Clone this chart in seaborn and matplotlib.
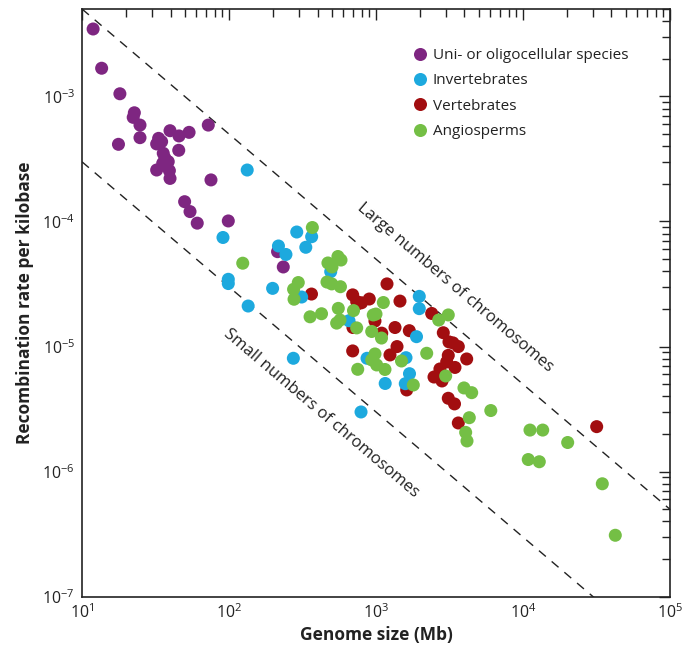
import numpy as np
import pandas as pd
import matplotlib
matplotlib.use("Agg")
import matplotlib.pyplot as plt
import seaborn as sns

# ---------------- data ----------------
uni_size = [11.9, 13.6, 18.1, 22.7, 22.3, 24.8, 17.7, 24.8, 33.2, 32.2, 34.8, 39.7, 45.7, 53.5,
            45.5, 35.7, 36.7, 38.6, 32.2, 35.4, 39.3, 39.7, 72.3, 75.4, 49.9, 54.3, 60.8, 98.9,
            214, 234]
uni_rate = [3.46e-3, 1.68e-3, 1.05e-3, 7.4e-4, 6.8e-4, 5.9e-4, 4.14e-4, 4.68e-4, 4.62e-4, 4.17e-4,
            4.35e-4, 5.32e-4, 4.83e-4, 5.16e-4, 3.71e-4, 3.51e-4, 3.20e-4, 3.01e-4, 2.58e-4, 2.92e-4,
            2.55e-4, 2.21e-4, 5.9e-4, 2.15e-4, 1.44e-4, 1.20e-4, 9.7e-5, 1.01e-4, 5.74e-5, 4.33e-5]

vert_size = [364, 1188, 694, 739, 797, 900, 1456, 984, 697, 1094, 1347, 1685, 694, 1390, 1245,
             1618, 2393, 2870, 3137, 3340, 3631, 4140, 3103, 3027, 3446, 2722, 2481, 2812, 3103,
             3420, 3631, 31720, 748]
vert_rate = [2.63e-5, 3.17e-5, 2.59e-5, 2.29e-5, 2.24e-5, 2.40e-5, 2.31e-5, 1.60e-5, 1.42e-5,
             1.28e-5, 1.42e-5, 1.34e-5, 9.23e-6, 1.0e-5, 8.57e-6, 4.50e-6, 1.84e-5, 1.29e-5, 1.09e-5,
             1.07e-5, 1.0e-5, 7.96e-6, 8.5e-6, 7.54e-6, 6.81e-6, 6.62e-6, 5.71e-6, 5.31e-6, 3.86e-6,
             3.48e-6, 2.45e-6, 2.29e-6, 2.19e-5]

inv_size = [133, 91, 289, 365, 333, 217, 244, 98.9, 98.9, 198, 135, 312, 492, 655, 274, 1970,
            1970, 1886, 869, 1600, 1690, 1155, 1582, 791]
inv_rate = [2.58e-4, 7.45e-5, 8.24e-5, 7.56e-5, 6.22e-5, 6.37e-5, 5.45e-5, 3.45e-5, 3.19e-5,
            2.92e-5, 2.11e-5, 2.49e-5, 3.97e-5, 1.61e-5, 8.06e-6, 2.52e-5, 2.01e-5, 1.20e-5,
            8.06e-6, 8.15e-6, 6.07e-6, 5.07e-6, 5.05e-6, 3.0e-6]

ang_size = [369, 124, 551, 578, 471, 502, 296, 275, 277, 464, 500, 573, 554, 356, 426, 540, 569,
            703, 1122, 958, 1000, 739, 935, 1090, 2213, 984, 935, 1011, 1151, 1491, 751, 1794,
            3103, 2671, 2979, 3967, 4477, 6040, 4313, 4074, 4160, 11160, 13620, 20140, 10860,
            12910, 34640, 42460]
ang_rate = [8.95e-5, 4.64e-5, 5.25e-5, 4.92e-5, 4.66e-5, 4.33e-5, 3.25e-5, 2.87e-5, 2.39e-5,
            3.28e-5, 3.17e-5, 3.01e-5, 2.02e-5, 1.73e-5, 1.83e-5, 1.54e-5, 1.63e-5, 1.94e-5,
            2.25e-5, 1.79e-5, 1.82e-5, 1.41e-5, 1.32e-5, 1.17e-5, 8.84e-6, 8.73e-6, 7.82e-6,
            7.13e-6, 6.56e-6, 7.67e-6, 6.58e-6, 4.93e-6, 1.79e-5, 1.63e-5, 5.82e-6, 4.67e-6,
            4.28e-6, 3.08e-6, 2.70e-6, 2.06e-6, 1.76e-6, 2.15e-6, 2.15e-6, 1.71e-6, 1.25e-6,
            1.20e-6, 8.0e-7, 3.1e-7]

groups = ["Uni- or oligocellular species", "Invertebrates", "Vertebrates", "Angiosperms"]
colors = ["#7E2681", "#1DA9DE", "#A20E10", "#74BF45"]

# dashed guide lines: rate = const / genome size
large_const = 0.05
small_const = 3e-3
xlim = (10, 1e5)
ylim = (1e-7, 5e-3)

# ---------------- figure ----------------
sns.set_theme(style="white")
plt.rcParams["font.family"] = ["Open Sans", "DejaVu Sans"]
plt.rcParams["mathtext.default"] = "regular"

df = pd.concat([
    pd.DataFrame({"size": uni_size, "rate": uni_rate, "group": groups[0]}),
    pd.DataFrame({"size": vert_size, "rate": vert_rate, "group": groups[2]}),
    pd.DataFrame({"size": inv_size, "rate": inv_rate, "group": groups[1]}),
    pd.DataFrame({"size": ang_size, "rate": ang_rate, "group": groups[3]}),
], ignore_index=True)

fig = plt.figure(figsize=(6.84, 6.47), dpi=100)
ax = fig.add_axes([0.1199, 0.0777, 0.8596, 0.9084])

ax.set_xscale("log")
ax.set_yscale("log")

xs = np.array(xlim)
ax.plot(xs, large_const / xs, ls=(0, (6.5, 5.5)), color="#222222", lw=1.0, zorder=1)
ax.plot(xs, small_const / xs, ls=(0, (6.5, 5.5)), color="#222222", lw=1.0, zorder=1)

sns.scatterplot(data=df, x="size", y="rate", hue="group", hue_order=groups,
                palette=dict(zip(groups, colors)), s=88, linewidth=0, alpha=1,
                ax=ax, zorder=3, legend=True)

ax.set_xlim(*xlim)
ax.set_ylim(*ylim)

for sp in ax.spines.values():
    sp.set_color("#222222")
    sp.set_linewidth(1.2)

ax.tick_params(which="both", direction="in", top=True, right=True, color="#222222",
               labelsize=11.5, labelcolor="#222222")
ax.tick_params(which="major", length=8, width=1.0, pad=5)
ax.tick_params(which="minor", length=5.5, width=1.0)
ax.xaxis.set_major_locator(matplotlib.ticker.LogLocator(base=10, numticks=10))
ax.xaxis.set_minor_locator(matplotlib.ticker.LogLocator(base=10, subs=np.arange(2, 10), numticks=20))
ax.yaxis.set_major_locator(matplotlib.ticker.LogLocator(base=10, numticks=10))
ax.yaxis.set_minor_locator(matplotlib.ticker.LogLocator(base=10, subs=np.arange(2, 10), numticks=20))
ax.xaxis.set_minor_formatter(matplotlib.ticker.NullFormatter())
ax.yaxis.set_minor_formatter(matplotlib.ticker.NullFormatter())

ax.set_xlabel("Genome size (Mb)", fontsize=12.5, fontweight="bold", color="#222222", labelpad=2.5)
ax.set_ylabel("Recombination rate per kilobase", fontsize=12.5, fontweight="bold",
              color="#222222", labelpad=6)

ang = -np.degrees(np.arctan(125.1 / 147.0))
ax.text(3444, 2.95e-5, "Large numbers of chromosomes", rotation=ang, rotation_mode="anchor",
        ha="center", va="center", fontsize=12, color="#222222")
ax.text(423, 2.94e-6, "Small numbers of chromosomes", rotation=ang, rotation_mode="anchor",
        ha="center", va="center", fontsize=12, color="#222222")

handles, labels = ax.get_legend_handles_labels()
ax.legend(handles, labels, loc="upper left", bbox_to_anchor=(0.552, 0.944), frameon=False,
          fontsize=11, handlelength=1.0, handletextpad=0.3, labelspacing=0.68, borderaxespad=0,
          markerscale=1.0, labelcolor="#222222")

fig.savefig("out.png", dpi=100)
